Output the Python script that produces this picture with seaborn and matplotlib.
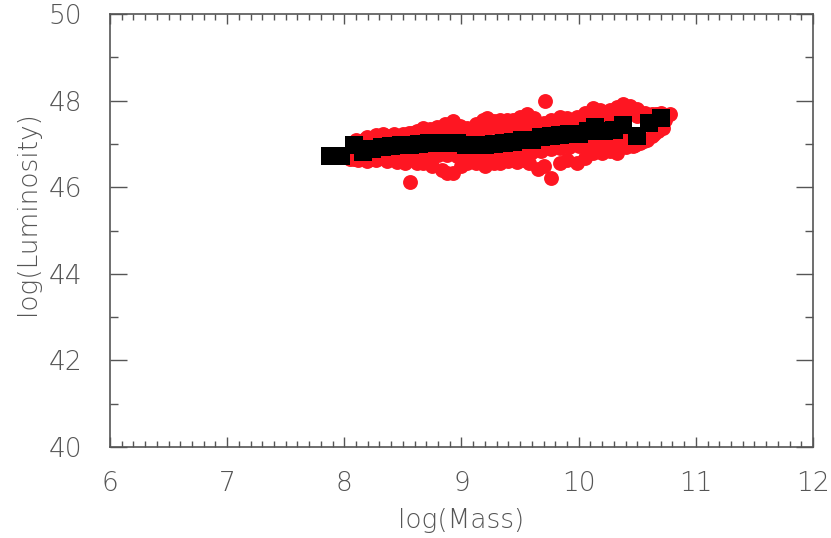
import numpy as np
import pandas as pd
import matplotlib
matplotlib.use('Agg')
import matplotlib.pyplot as plt
from matplotlib.ticker import MultipleLocator
import seaborn as sns

# red cloud: individual objects
# upper edge of the cloud
top_mass = [8.12, 8.19, 8.27, 8.33, 8.40, 8.47, 8.55, 8.62, 8.67, 8.73, 8.79, 8.86,
            8.93, 8.99, 9.05, 9.12, 9.18, 9.22, 9.28, 9.33, 9.39, 9.44, 9.50, 9.56,
            9.62, 9.71, 9.76, 9.84, 9.90, 9.99, 10.05, 10.12, 10.18, 10.27, 10.33,
            10.38, 10.44, 10.50, 10.57, 10.63, 10.70, 10.78]
top_lum = [47.02, 47.17, 47.20, 47.22, 47.18, 47.17, 47.25, 47.30, 47.36, 47.35,
           47.40, 47.45, 47.52, 47.42, 47.36, 47.45, 47.55, 47.59, 47.52, 47.56,
           47.55, 47.56, 47.62, 47.68, 47.60, 47.98, 47.56, 47.62, 47.60, 47.63,
           47.72, 47.82, 47.78, 47.79, 47.85, 47.93, 47.88, 47.80, 47.72, 47.70,
           47.72, 47.70]
# lower edge of the cloud
low_mass = [8.05, 8.12, 8.19, 8.27, 8.36, 8.45, 8.52, 8.56, 8.62, 8.67, 8.75, 8.83,
            8.88, 8.93, 9.00, 9.05, 9.12, 9.20, 9.28, 9.33, 9.40, 9.47, 9.53, 9.58,
            9.65, 9.70, 9.76, 9.84, 9.90, 9.99, 10.05, 10.12, 10.20, 10.27, 10.33,
            10.40, 10.46, 10.52, 10.58, 10.63, 10.68, 10.74]
low_lum = [46.66, 46.62, 46.60, 46.63, 46.60, 46.59, 46.55, 46.12, 46.56, 46.55,
           46.48, 46.40, 46.33, 46.33, 46.50, 46.55, 46.57, 46.50, 46.55, 46.55,
           46.60, 46.58, 46.62, 46.55, 46.42, 46.48, 46.22, 46.55, 46.62, 46.55,
           46.68, 46.78, 46.80, 46.83, 46.78, 46.92, 46.95, 47.02, 47.10, 47.18,
           47.30, 47.55]
# inner part, above the binned means
in_hi_mass = [8.10, 8.18, 8.26, 8.34, 8.42, 8.50, 8.58, 8.66, 8.74, 8.82, 8.90, 8.98,
              9.06, 9.14, 9.22, 9.30, 9.38, 9.46, 9.54, 9.62, 9.70, 9.78, 9.86, 9.94,
              10.02, 10.10, 10.18, 10.26, 10.34, 10.42, 10.50, 10.58, 10.66]
in_hi_lum = [47.08, 47.12, 47.16, 47.20, 47.22, 47.24, 47.26, 47.28, 47.30, 47.32,
             47.33, 47.32, 47.30, 47.32, 47.34, 47.36, 47.38, 47.40, 47.43, 47.45,
             47.48, 47.48, 47.50, 47.52, 47.55, 47.60, 47.62, 47.62, 47.66, 47.70,
             47.64, 47.66, 47.68]
# inner part, below the binned means
in_lo_mass = [8.08, 8.16, 8.24, 8.32, 8.40, 8.48, 8.56, 8.64, 8.72, 8.80, 8.88, 8.96,
              9.04, 9.12, 9.20, 9.28, 9.36, 9.44, 9.52, 9.60, 9.68, 9.76, 9.84, 9.92,
              10.00, 10.08, 10.16, 10.24, 10.32, 10.40, 10.48, 10.56, 10.64, 10.72]
in_lo_lum = [46.65, 46.68, 46.66, 46.68, 46.70, 46.71, 46.72, 46.74, 46.74, 46.75,
             46.74, 46.72, 46.70, 46.70, 46.72, 46.74, 46.76, 46.78, 46.80, 46.82,
             46.84, 46.88, 46.90, 46.92, 46.94, 46.98, 47.02, 47.04, 47.06, 47.12,
             46.98, 47.06, 47.22, 47.36]

# black squares: binned means
bin_mass = [7.88, 7.97, 8.08, 8.16, 8.24, 8.32, 8.40, 8.48, 8.56, 8.64, 8.72, 8.80,
            8.88, 8.96, 9.04, 9.12, 9.20, 9.28, 9.36, 9.44, 9.52, 9.60, 9.68, 9.76,
            9.84, 9.92, 10.00, 10.08, 10.14, 10.22, 10.30, 10.38, 10.50, 10.60, 10.70]
bin_lum = [46.72, 46.72, 46.97, 46.82, 46.88, 46.93, 46.95, 46.97, 46.98, 47.00,
           47.02, 47.03, 47.02, 47.03, 46.98, 46.97, 46.98, 47.00, 47.02, 47.04,
           47.08, 47.10, 47.16, 47.18, 47.20, 47.22, 47.24, 47.30, 47.38, 47.30,
           47.32, 47.44, 47.18, 47.48, 47.60]

pts = pd.DataFrame({'mass': top_mass + low_mass + in_hi_mass + in_lo_mass,
                    'lum': top_lum + low_lum + in_hi_lum + in_lo_lum})
bins = pd.DataFrame({'mass': bin_mass, 'lum': bin_lum})

sns.set_theme(style='white')
plt.rcParams['font.family'] = ['DejaVu Sans']
grey = '#555555'

fig = plt.figure(figsize=(8.31, 5.38), dpi=100)
ax = fig.add_axes([0.1324, 0.1691, 0.8459, 0.8049])

sns.scatterplot(data=pts, x='mass', y='lum', ax=ax, color='#fe1622', s=115,
                marker='o', linewidth=0, zorder=2)
sns.scatterplot(data=bins, x='mass', y='lum', ax=ax, color='black', s=150,
                marker='s', linewidth=0, zorder=3)

ax.set_xlim(6, 12)
ax.set_ylim(40, 50)
ax.xaxis.set_major_locator(MultipleLocator(1))
ax.xaxis.set_minor_locator(MultipleLocator(0.1))
ax.yaxis.set_major_locator(MultipleLocator(2))
ax.yaxis.set_minor_locator(MultipleLocator(1))

for s in ax.spines.values():
    s.set_color(grey)
    s.set_linewidth(1.2)

ax.tick_params(axis='x', which='major', direction='in', length=7, width=1,
               color=grey, top=True, bottom=True, pad=17, labelsize=19,
               labelcolor=grey)
ax.tick_params(axis='x', which='minor', direction='in', length=4, width=1,
               color=grey, top=True, bottom=True)
ax.tick_params(axis='y', which='major', direction='in', length=12, width=1,
               color=grey, left=True, right=True, pad=20, labelsize=19,
               labelcolor=grey)
ax.tick_params(axis='y', which='minor', direction='in', length=6, width=1,
               color=grey, left=True, right=True)

for lab in ax.get_xticklabels() + ax.get_yticklabels():
    lab.set_fontweight('light')

ax.set_xlabel('log(Mass)', fontsize=19, color=grey, fontweight='light')
ax.set_ylabel('log(Luminosity)', fontsize=19, color=grey, fontweight='light')
ax.xaxis.set_label_coords(0.5, -0.14)
ax.yaxis.set_label_coords(-0.1, 0.54)

plt.savefig('out.png', dpi=100)
